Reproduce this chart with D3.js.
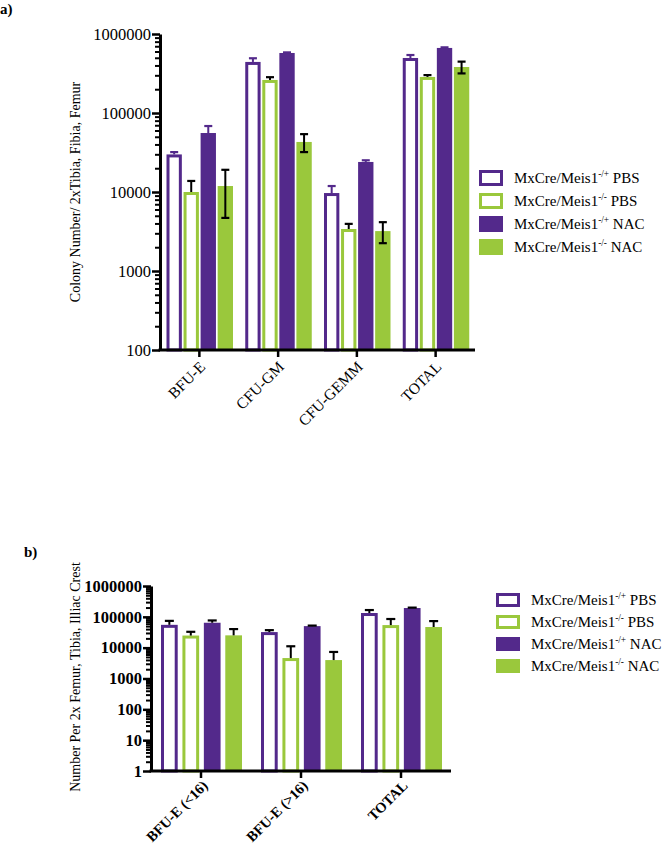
<!DOCTYPE html>
<html><head><meta charset="utf-8">
<script src="https://cdn.jsdelivr.net/npm/d3@7"></script>
<style>
body{margin:0;background:#fff;}
svg text{font-family:"Liberation Serif","Times New Roman",Times,"Nimbus Roman","DejaVu Serif",serif !important;fill:#000;}
</style></head>
<body>
<script>
// ---------- DATA ----------
const seriesNames = [
  {base:"MxCre/Meis1", sup:"-/+", suffix:" PBS"},
  {base:"MxCre/Meis1", sup:"-/-", suffix:" PBS"},
  {base:"MxCre/Meis1", sup:"-/+", suffix:" NAC"},
  {base:"MxCre/Meis1", sup:"-/-", suffix:" NAC"}
];
const seriesKeys = ["s1","s2","s3","s4"];

// Panel a
const categoriesA = ["BFU-E","CFU-GM","CFU-GEMM","TOTAL"];
const meansA_s1 = [29900, 443000, 9700, 497000];
const meansA_s2 = [10000, 262000, 3400, 286000];
const meansA_s3 = [55800, 575000, 24000, 666000];
const meansA_s4 = [11900, 43000, 3200, 382000];
const errA_s1 = [2100, 50000, 2200, 45000];
const errA_s2 = [3800, 22000, 550, 16000];
const errA_s3 = [12600, 10000, 1200, 12000];
const errA_s4 = [7200, 11000, 950, 65000];
const ticksA = [100, 1000, 10000, 100000, 1000000];

// Panel b
const categoriesB = ["BFU-E (<16)","BFU-E (>16)","TOTAL"];
const meansB_s1 = [55000, 32000, 133000];
const meansB_s2 = [24700, 4600, 54000];
const meansB_s3 = [64300, 50000, 193000];
const meansB_s4 = [25100, 3960, 46700];
const errB_s1 = [19000, 5000, 33000];
const errB_s2 = [8000, 6500, 31000];
const errB_s3 = [12000, 2000, 6000];
const errB_s4 = [15000, 3300, 26000];
const ticksB = [1, 10, 100, 1000, 10000, 100000, 1000000];

// ---------- STYLE ----------
const PURPLE = "#53298b";
const GREEN = "#9ac83c";
const FONT = '"Liberation Serif","Times New Roman",Times,"Nimbus Roman","DejaVu Serif",serif';
const styles = [
  {fill:"#fff", stroke:PURPLE, open:true},
  {fill:"#fff", stroke:GREEN, open:true},
  {fill:PURPLE, stroke:PURPLE, open:false},
  {fill:GREEN, stroke:GREEN, open:false}
];

const W = 672, H = 849;
const svg = d3.select("body").append("svg").attr("width", W).attr("height", H)
  .attr("font-family", FONT);

function minorTicks(majors){
  const out = [];
  for (let i = 0; i < majors.length - 1; i++)
    for (let k = 2; k <= 9; k++) out.push(majors[i] * k);
  return out;
}

function drawPanel(cfg){
  const g = svg.append("g");
  const y = d3.scaleLog().domain([cfg.ticks[0], cfg.ticks[cfg.ticks.length-1]]).range([cfg.y0, cfg.y1]);
  const x = d3.scaleBand().domain(cfg.categories).range([cfg.x0, cfg.x1]).padding(0);
  const xi = d3.scaleBand().domain(seriesKeys).range(cfg.inner).paddingInner(cfg.innerPad);

  const rows = [];
  cfg.categories.forEach((c, ci) => {
    seriesKeys.forEach((k, si) => {
      rows.push({c, si, k, v: cfg.means[si][ci], e: cfg.errs[si][ci]});
    });
  });

  // bars
  const sw = 3;
  rows.forEach(d => {
    const st = styles[d.si];
    const bx = x(d.c) + xi(d.k), bw = xi.bandwidth();
    const top = y(d.v), bot = y(cfg.ticks[0]);
    if (st.open) {
      g.append("rect").attr("x", bx + sw/2).attr("y", top + sw/2)
        .attr("width", bw - sw).attr("height", Math.max(0, bot - top - sw/2))
        .attr("fill", "#fff").attr("stroke", st.stroke).attr("stroke-width", sw);
    } else {
      g.append("rect").attr("x", bx).attr("y", top)
        .attr("width", bw).attr("height", bot - top).attr("fill", st.fill);
    }
  });

  // error bars
  rows.forEach(d => {
    const bx = x(d.c) + xi(d.k) + xi.bandwidth()/2;
    const col = cfg.errColor(d.si);
    const both = cfg.errBoth(d.si);
    const yt = y(d.v + d.e);
    const yb = both ? y(Math.max(cfg.ticks[0], d.v - d.e)) : y(d.v);
    const cw = cfg.capW;
    g.append("line").attr("x1", bx).attr("x2", bx).attr("y1", yt).attr("y2", yb)
      .attr("stroke", col).attr("stroke-width", 2);
    g.append("line").attr("x1", bx - cw/2).attr("x2", bx + cw/2).attr("y1", yt).attr("y2", yt)
      .attr("stroke", col).attr("stroke-width", 2.2);
    if (both)
      g.append("line").attr("x1", bx - cw/2).attr("x2", bx + cw/2).attr("y1", yb).attr("y2", yb)
        .attr("stroke", col).attr("stroke-width", 2.2);
  });

  // y axis
  const yAxis = g.append("g").attr("transform", `translate(${cfg.x0},0)`)
    .call(d3.axisLeft(y).tickValues(cfg.ticks).tickFormat(d3.format("d")).tickSize(8).tickSizeOuter(0).tickPadding(1));
  yAxis.attr("font-family", FONT);
  yAxis.select(".domain").attr("stroke-width", 3).attr("stroke", "#000");
  yAxis.selectAll(".tick line").attr("stroke-width", 2.5);
  yAxis.selectAll(".tick text").attr("font-size", cfg.tickFont).attr("font-weight", cfg.bold ? "bold" : "normal")
    .attr("font-family", FONT).attr("fill", "#000");
  const yMinor = g.append("g").attr("transform", `translate(${cfg.x0},0)`)
    .call(d3.axisLeft(y).tickValues(minorTicks(cfg.ticks)).tickFormat("").tickSize(cfg.minorLen).tickSizeOuter(0));
  yMinor.select(".domain").remove();
  yMinor.selectAll(".tick line").attr("stroke-width", 2);

  // x axis
  const xAxis = g.append("g").attr("transform", `translate(0,${cfg.y0})`)
    .call(d3.axisBottom(x).tickSize(7).tickSizeOuter(0).tickPadding(2));
  xAxis.attr("font-family", FONT);
  xAxis.select(".domain").attr("stroke-width", 3).attr("stroke", "#000")
    .attr("d", `M${cfg.x0 - 1.5},0H${cfg.x1}`);
  xAxis.selectAll(".tick line").attr("stroke-width", 2.5);
  xAxis.selectAll(".tick text")
    .attr("font-size", cfg.xFont).attr("font-weight", cfg.bold ? "bold" : "normal")
    .attr("font-family", FONT).attr("fill", "#000")
    .attr("text-anchor", "end")
    .attr("transform", `translate(${cfg.xLabDx},${cfg.xLabDy}) rotate(-45)`)
    .attr("dy", "0.35em").attr("y", 0).attr("x", 0);

  // y title
  g.append("text").attr("transform", `translate(${cfg.titleX},${cfg.titleY}) rotate(-90)`)
    .attr("text-anchor", "middle").attr("font-size", cfg.titleFont).text(cfg.title);

  // panel label
  g.append("text").attr("x", cfg.labelX).attr("y", cfg.labelY).attr("font-weight", "bold")
    .attr("font-size", 15).text(cfg.label);

  // legend
  const lg = g.append("g");
  seriesNames.forEach((s, i) => {
    const st = styles[i];
    const ly = cfg.legY + i * cfg.legStep;
    if (st.open) {
      lg.append("rect").attr("x", cfg.legX + sw/2).attr("y", ly + sw/2)
        .attr("width", cfg.legW - sw).attr("height", cfg.legH - sw)
        .attr("fill", "#fff").attr("stroke", st.stroke).attr("stroke-width", sw);
    } else {
      lg.append("rect").attr("x", cfg.legX).attr("y", ly).attr("width", cfg.legW).attr("height", cfg.legH)
        .attr("fill", st.fill);
    }
    const t = lg.append("text").attr("x", cfg.legX + cfg.legW + 11).attr("y", ly + cfg.legH/2 + 5)
      .attr("font-size", cfg.legFont);
    t.append("tspan").text(s.base);
    t.append("tspan").attr("font-size", cfg.legFont * 0.62).attr("dy", -6).text(s.sup);
    t.append("tspan").attr("dy", 6).text(s.suffix);
  });
}

drawPanel({
  categories: categoriesA,
  means: [meansA_s1, meansA_s2, meansA_s3, meansA_s4],
  errs: [errA_s1, errA_s2, errA_s3, errA_s4],
  ticks: ticksA,
  x0: 160, x1: 475, y0: 350, y1: 34,
  inner: [6.5, 73], innerPad: 0.1,
  capW: 8, minorLen: 5,
  errColor: si => (si === 0 || si === 2) ? PURPLE : "#000",
  errBoth: si => si === 3,
  tickFont: 16.5, xFont: 15.5, bold: false,
  xLabDx: 3, xLabDy: 14,
  title: "Colony Number/ 2xTibia, Fibia, Femur", titleX: 80, titleY: 192, titleFont: 14,
  label: "a)", labelX: 0, labelY: 14,
  legX: 479, legY: 170, legStep: 23, legW: 24, legH: 16, legFont: 15
});

drawPanel({
  categories: categoriesB,
  means: [meansB_s1, meansB_s2, meansB_s3, meansB_s4],
  errs: [errB_s1, errB_s2, errB_s3, errB_s4],
  ticks: ticksB,
  x0: 151, x1: 451, y0: 771, y1: 586,
  inner: [10, 91], innerPad: 0.22,
  capW: 9, minorLen: 5,
  errColor: si => "#000",
  errBoth: si => false,
  tickFont: 16.5, xFont: 14.5, bold: true,
  xLabDx: 4, xLabDy: 12,
  title: "Number Per 2x Femur, Tibia, Illiac Crest", titleX: 80, titleY: 677, titleFont: 14,
  label: "b)", labelX: 24, labelY: 557,
  legX: 496, legY: 593, legStep: 22, legW: 24, legH: 14, legFont: 15
});
</script>
</body></html>
